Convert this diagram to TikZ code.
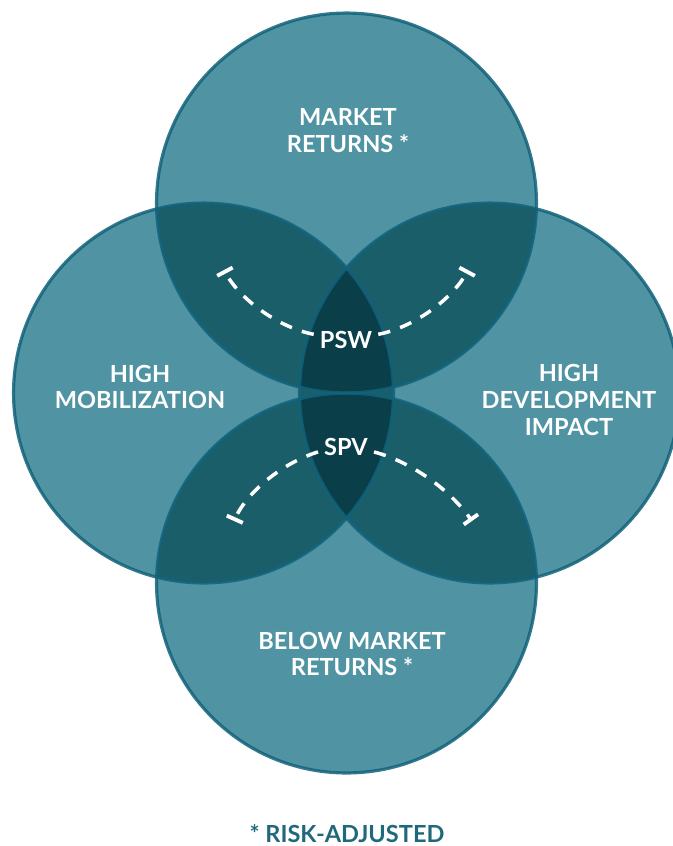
\documentclass[tikz,border=0pt]{standalone}
\usepackage{fontspec}
\setmainfont{Lato}
\usetikzlibrary{arrows.meta}
\definecolor{tealLight}{RGB}{80,148,163}
\definecolor{tealMid}{RGB}{26,94,106}
\definecolor{tealDark}{RGB}{10,63,73}
\definecolor{tealLine}{RGB}{18,98,122}
\definecolor{tealText}{RGB}{31,105,123}
\tikzset{
	venntext/.style = {text = white, font = \bfseries\fontsize{13.4}{15.3}\selectfont, align = center},
	link/.style = {white, line width = 2pt, dash pattern = on 7pt off 6pt,
		-{Bar[width = 10pt, line width = 2.2pt]}},
}
\begin{document}
\begin{tikzpicture}[x = 0.02cm, y = -0.02cm]
	\useasboundingbox (0, 0) rectangle (673, 846);
	\foreach \c/\x/\y in {top/346.5/203, bot/346.5/583, lft/203.5/393, rgt/489.5/393}{
		\coordinate (\c) at (\x, \y);
		\fill[tealLight] (\c) circle (3.8cm);}
	% two circles
	\foreach \a/\b in {top/lft, top/rgt, bot/lft, bot/rgt, lft/rgt}{
		\begin{scope}
			\clip (\a) circle (3.8cm);
			\fill[tealMid] (\b) circle (3.8cm);
		\end{scope}}
	% three circles
	\foreach \a in {top, bot}{
		\begin{scope}
			\clip (\a) circle (3.8cm);
			\clip (lft) circle (3.8cm);
			\fill[tealDark] (rgt) circle (3.8cm);
		\end{scope}}
	\foreach \c in {top, bot, lft, rgt}
		\draw[tealLine, opacity = 0.85, line width = 1.8pt] (\c) circle (3.8cm);
	\node[venntext] (mkt) at (348, 131) {MARKET\\RETURNS *};
	\node[venntext] (mob) at (140, 387) {HIGH\\MOBILIZATION};
	\node[venntext] (dev) at (569, 400) {HIGH\\DEVELOPMENT\\IMPACT};
	\node[venntext] (blw) at (352, 654) {BELOW MARKET\\RETURNS *};
	\node[venntext] (psw) at (346, 340) {PSW};
	\node[venntext] (spv) at (346, 447) {SPV};
	\node[venntext, text = tealText] (note) at (347, 834) {* RISK-ADJUSTED};
	\coordinate (pswA) at (224, 270);
	\coordinate (pswB) at (468, 270);
	\coordinate (spvA) at (234, 521);
	\coordinate (spvB) at (472, 521);
	\draw[link] (psw.170) .. controls (280, 328) and (240, 300) .. (pswA);
	\draw[link] (psw.10) .. controls (412, 328) and (452, 300) .. (pswB);
	\draw[link] (spv.190) .. controls (285, 462) and (248, 490) .. (spvA);
	\draw[link] (spv.350) .. controls (412, 462) and (450, 490) .. (spvB);
\end{tikzpicture}
\end{document}
